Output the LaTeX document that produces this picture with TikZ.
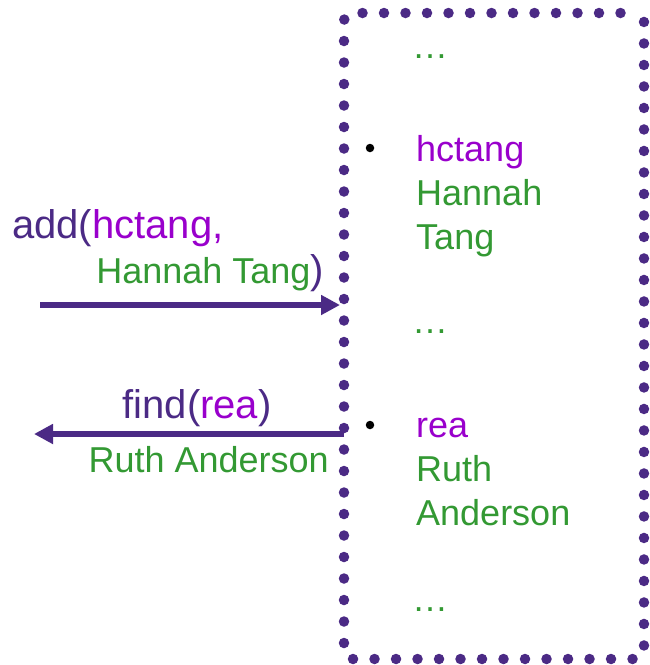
\documentclass[tikz,border=0pt]{standalone}
\usepackage{fontspec}
\setmainfont{Liberation Sans}
\usetikzlibrary{arrows.meta}
\definecolor{dpurple}{HTML}{4B2A85}
\definecolor{mpurple}{HTML}{9900CC}
\definecolor{dgreen}{HTML}{339933}
\newcommand{\bigf}{\fontsize{40}{48}\selectfont}
\newcommand{\smf}{\fontsize{36}{44}\selectfont}
\tikzset{
  txt/.style={inner sep=0pt, font=\smf},
  bl/.style={txt, anchor=base west},
  br/.style={txt, anchor=base east},
  bullet/.style={circle, fill=black, inner sep=0pt, minimum size=8.5pt},
  dotbox/.style={draw=dpurple, line width=10.5pt, line cap=round, dash pattern=on 0pt off 21.5pt, dash phase=6pt, rounded corners=8pt, minimum width=300pt, minimum height=646pt, inner sep=0pt, outer sep=0pt},
  arr/.style={draw=dpurple, line width=6pt, -{Triangle[length=19pt,width=19pt]}}
}
\begin{document}
\begin{tikzpicture}[x=1pt,y=1pt]
\useasboundingbox (0,0) rectangle (650,-665);
\node[dotbox] (box) at (494,-336) {};
% box contents
\node[bl, text=dgreen] (e1) at (412,-58) {…};
\node[bullet] (b1) at (370,-148) {};
\node[bl, text=mpurple] (k1) at (416,-161) {hctang};
\node[bl, text=dgreen] (v1a) at (416,-205) {Hannah};
\node[bl, text=dgreen] (v1b) at (416,-249) {Tang};
\node[bl, text=dgreen] (e2) at (412,-333) {…};
\node[bullet] (b2) at (370,-425) {};
\node[bl, text=mpurple] (k2) at (416,-437) {rea};
\node[bl, text=dgreen] (v2a) at (416,-481) {Ruth};
\node[bl, text=dgreen] (v2b) at (416,-525) {Anderson};
\node[bl, text=dgreen] (e3) at (412,-611) {…};
% add call
\node[bl, text=dpurple, font=\bigf] (add) at (12,-238) {add(\textcolor{mpurple}{hctang,}};
\node[br, text=dpurple] (addb) at (324,-283) {\textcolor{dgreen}{Hannah Tang}{\bigf)}};
\coordinate (a1) at (40,-305);
\draw[arr, shorten >=4pt] (a1) -- (a1 -| box.west);
% find call
\node[txt, anchor=base, text=dpurple, font=\bigf] (find) at (197,-418) {find(\textcolor{mpurple}{rea})};
\coordinate (f1) at (34,-434);
\draw[arr] (f1 -| box.west) -- (f1);
\node[br, text=dgreen] (res) at (329,-472) {Ruth Anderson};
\end{tikzpicture}
\end{document}
